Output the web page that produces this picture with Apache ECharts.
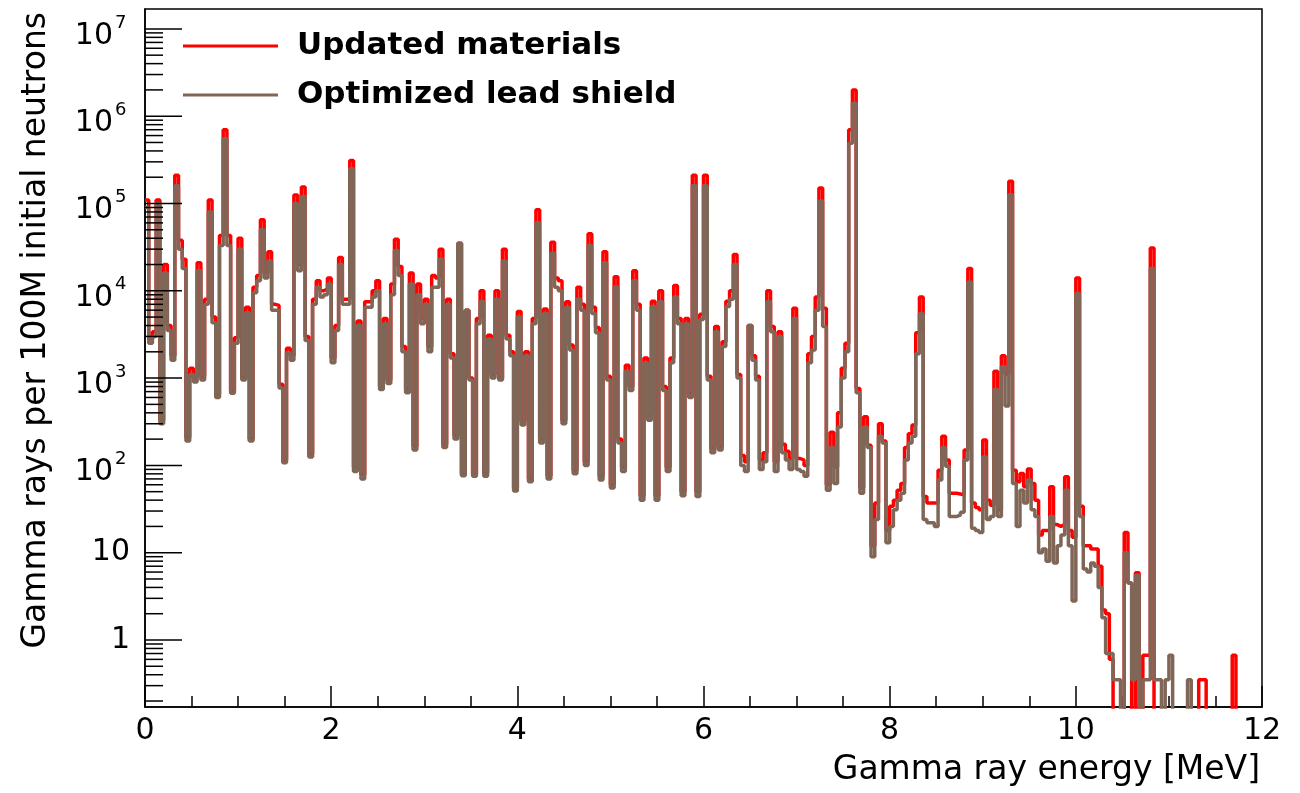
<!DOCTYPE html>
<html><head><meta charset="utf-8">
<script src="https://cdn.jsdelivr.net/npm/echarts@6/dist/echarts.min.js"></script>
<style>html,body{margin:0;padding:0;background:#fff;} #chart{width:1300px;height:793px;}</style>
</head><body><div id="chart"></div>
<script>
// Histogram: 300 bins of 0.04 MeV from 0 to 12 MeV
const binWidth = 0.04;

// "Optimized lead shield" (brown)
const brownCounts = [
  9e4, 2.5e3, 3e3, 1e5, 300, 1.6e4, 3.5e3, 1.6e3, 1.6e5, 3e4,
  1.8e4, 190, 1.1e3, 900, 1.7e4, 950, 7e3, 8e4, 4.3e3, 600,
  3.3e4, 5.5e5, 3.3e4, 670, 2.5e3, 3e4, 950, 5.6e3, 190, 9.5e3,
  1.3e4, 5e4, 1.4e4, 2.2e4, 6e3, 6e3, 770, 107, 1.95e3, 1.6e3,
  1e5, 1.7e4, 1.2e5, 2.7e3, 125, 7e3, 1.1e4, 8.5e3, 9e3, 1.2e4,
  1.5e3, 3.5e3, 2e4, 7e3, 7e3, 2.5e5, 85, 4e3, 70, 6.5e3,
  6.5e3, 8.5e3, 1e4, 740, 4.2e3, 870, 9e3, 2.9e4, 1.5e4, 2e3,
  680, 1.2e4, 150, 9e3, 4.2e3, 7e3, 2e3, 1.1e4, 1.1e4, 2.3e4,
  160, 7e3, 1.7e3, 200, 3.5e4, 76, 6e3, 950, 75, 4.2e3,
  7.5e3, 75, 2.8e3, 1e3, 8e3, 950, 2.2e4, 2.8e3, 1.8e3, 51,
  5e3, 290, 1.8e3, 65, 4.2e3, 6e4, 180, 5.5e3, 70, 2.7e4,
  1.1e4, 1e4, 300, 6.5e3, 2.1e3, 80, 8e3, 6e3, 100, 3.3e4,
  5.5e3, 3.3e3, 68, 2.1e4, 950, 55, 1.1e4, 180, 85, 1.2e3,
  720, 1.3e4, 6e3, 40, 1.5e3, 330, 6.6e3, 40, 7.5e3, 720,
  85, 1.5e3, 8.5e3, 4.2e3, 45, 4.2e3, 600, 1.6e5, 44, 4.7e3,
  1.6e5, 950, 140, 3.4e3, 150, 2.3e3, 6.6e3, 8e3, 2e4, 1e3,
  100, 85, 4e3, 1.6e3, 950, 90, 110, 7.5e3, 3.4e3, 85,
  3e3, 140, 115, 90, 4.8e3, 90, 85, 75, 1.5e3, 2.1e3,
  6e3, 1.07e5, 3.9e3, 52, 160, 62, 275, 1e3, 2e3, 4.9e5,
  1.4e6, 680, 48, 275, 160, 9, 24, 215, 180, 13,
  20, 31, 40, 48, 115, 180, 215, 1.9e3, 5.5e3, 24,
  22, 22, 20, 68, 160, 98, 26, 26, 27, 29,
  115, 1.26e4, 19, 18, 17, 125, 24, 26, 740, 26,
  1.35e3, 480, 1.26e5, 62, 20, 52, 37, 68, 31, 26,
  10, 11, 8, 26, 7.6, 12, 16, 52, 12, 2.8,
  9.3e3, 26, 6.5, 6, 7.6, 7, 4, 1.8, 0.7, 0.7,
  0.35, 0.35, 0.01, 10, 4.5, 0.35, 5.5, 0.01, 0.35, 0.35,
  1.8e4, 0.35, 0.35, 0.01, 0.35, 0.67, 0.01, 0.01, 0.01, 0.01,
  0.35, 0.01, 0.01, 0.01, 0.01, 0.01, 0.01, 0.01, 0.01, 0.01,
  0.01, 0.01, 0.01, 0.01, 0.01, 0.01, 0.01, 0.01, 0.01, 0.01
];

// "Updated materials" (red)
const redCounts = [
  1.1e5, 2.8e3, 3.4e3, 1.1e5, 330, 2e4, 4e3, 1.8e3, 2.1e5, 3.8e4,
  2.3e4, 210, 1.3e3, 1e3, 2.1e4, 1.05e3, 8e3, 1.1e5, 5e3, 650,
  4.3e4, 7e5, 4.3e4, 720, 2.9e3, 4e4, 1e3, 6.5e3, 200, 1.1e4,
  1.5e4, 6.5e4, 1.6e4, 2.8e4, 7e3, 6.8e3, 850, 115, 2.2e3, 1.8e3,
  1.25e5, 2e4, 1.55e5, 3e3, 135, 8e3, 1.3e4, 1e4, 1.05e4, 1.4e4,
  1.7e3, 4e3, 2.4e4, 8e3, 8e3, 3.1e5, 95, 4.5e3, 78, 7.5e3,
  7.5e3, 1e4, 1.3e4, 800, 4.8e3, 950, 1.2e4, 3.9e4, 1.9e4, 2.3e3,
  750, 1.6e4, 165, 1.2e4, 4.8e3, 8e3, 2.3e3, 1.5e4, 1.4e4, 3e4,
  175, 8e3, 1.9e3, 220, 3.5e4, 80, 6e3, 1e3, 80, 4.8e3,
  1e4, 82, 3.1e3, 1.1e3, 1e4, 1e3, 3e4, 3.1e3, 2e3, 55,
  5.8e3, 320, 2e3, 70, 4.8e3, 8.5e4, 200, 6.2e3, 76, 3.6e4,
  1.4e4, 1.3e4, 330, 7.5e3, 2.4e3, 88, 1.1e4, 7e3, 110, 4.5e4,
  6.5e3, 3.8e3, 75, 2.8e4, 1.05e3, 60, 1.45e4, 200, 95, 1.4e3,
  800, 1.7e4, 7e3, 45, 1.7e3, 370, 7.6e3, 45, 1e4, 800,
  95, 1.7e3, 1.15e4, 4.8e3, 50, 4.8e3, 660, 2.1e5, 50, 5.4e3,
  2.1e5, 1.05e3, 155, 3.9e3, 165, 2.6e3, 7.6e3, 1e4, 2.6e4, 1.1e3,
  130, 110, 4e3, 1.8e3, 1.05e3, 115, 140, 1e4, 3.9e3, 110,
  3.4e3, 175, 145, 120, 6.3e3, 120, 115, 100, 1.9e3, 3e3,
  8.5e3, 1.5e5, 6.3e3, 60, 240, 96, 400, 1.3e3, 2.5e3, 7e5,
  2e6, 760, 55, 360, 170, 12, 37, 300, 190, 18,
  34, 40, 52, 62, 160, 230, 290, 3.3e3, 8.5e3, 44,
  37, 37, 37, 88, 215, 115, 48, 48, 47, 46,
  150, 1.8e4, 37, 33, 31, 195, 40, 35, 1.2e3, 31,
  1.8e3, 1.1e3, 1.8e5, 88, 65, 81, 57, 91, 62, 40,
  16, 18, 18, 57, 21, 20, 21, 74, 18, 15,
  1.4e4, 34, 12, 12, 11, 11, 7, 2.2, 2, 0.6,
  0.01, 0.01, 0.01, 17, 4.5, 0.01, 5.9, 0.01, 0.67, 0.67,
  3.1e4, 0.01, 0.01, 0.01, 0.01, 0.01, 0.01, 0.01, 0.01, 0.01,
  0.01, 0.01, 0.01, 0.35, 0.35, 0.01, 0.01, 0.01, 0.01, 0.01,
  0.01, 0.01, 0.67, 0.01, 0.01, 0.01, 0.01, 0.01, 0.01, 0.01
];

const seriesNames = ['Updated materials', 'Optimized lead shield'];
const seriesColors = ['#ff0000', '#7f6657'];

const xMin = 0, xMax = 12, xInterval = 2;
const yMin = 0.1708, yMax = 1.69e7;
const yMajorTicks = [1, 10, 100, 1000, 1e4, 1e5, 1e6, 1e7];
const yMajorBase = ['1', '10', '10', '10', '10', '10', '10', '10'];
const yMajorSup = ['', '', '2', '3', '4', '5', '6', '7'];
const yDecades = [0.1, 1, 10, 100, 1000, 1e4, 1e5, 1e6, 1e7];
const yMinorMult = [2, 3, 4, 5, 6, 7, 8, 9];

const xTitle = 'Gamma ray energy [MeV]';
const yTitle = 'Gamma rays per 100M initial neutrons';

const FONT = 'DejaVu Sans';

function toSteps(vals) {
  const d = vals.map((v, i) => [+(i * binWidth).toFixed(4), v]);
  d.push([+(vals.length * binWidth).toFixed(4), vals[vals.length - 1]]);
  return d;
}

// y tick items: [x, value, isMajor, labelIndex]
const yTickItems = [];
yMajorTicks.forEach((v, i) => yTickItems.push([0, v, 1, i]));
yDecades.forEach(d => yMinorMult.forEach(m => {
  const v = d * m;
  if (v > yMin && v < yMax) yTickItems.push([0, v, 0, -1]);
}));

const chart = echarts.init(document.getElementById('chart'), null, {renderer: 'canvas'});

const option = {
  animation: false,
  backgroundColor: '#ffffff',
  grid: {left: 145, right: 38, top: 9, bottom: 86, show: true, borderColor: '#000', borderWidth: 1.5, backgroundColor: 'transparent'},
  legend: {
    data: seriesNames,
    orient: 'vertical',
    left: 178, top: 23,
    itemWidth: 95, itemHeight: 3, itemGap: 13,
    icon: 'rect',
    textStyle: {fontFamily: FONT, fontWeight: 'bold', fontSize: 31, color: '#000', lineHeight: 36, padding: [0, 0, 0, 14]}
  },
  xAxis: {
    type: 'value', min: xMin, max: xMax, interval: xInterval,
    axisLine: {show: true, lineStyle: {color: '#000', width: 1.5}},
    axisTick: {show: true, inside: true, length: 21, lineStyle: {color: '#000', width: 1.5}},
    minorTick: {show: true, splitNumber: 4, length: 11, lineStyle: {color: '#000', width: 1.5}},
    splitLine: {show: false},
    axisLabel: {fontFamily: FONT, fontSize: 30, color: '#000', margin: 9, showMinLabel: true, showMaxLabel: true}
  },
  yAxis: {
    type: 'log', logBase: 10, min: yMin, max: yMax,
    axisLine: {show: true, lineStyle: {color: '#000', width: 1.5}},
    axisTick: {show: false},
    axisLabel: {show: false},
    splitLine: {show: false}
  },
  graphic: [
    {type: 'text', right: 40, top: 754, style: {text: xTitle, font: '33px "' + FONT + '"', fill: '#000'}},
    {type: 'text', x: 36, y: 12, rotation: Math.PI / 2,
     style: {text: yTitle, font: '33px "' + FONT + '"', fill: '#000', align: 'right', verticalAlign: 'middle'}}
  ],
  series: [
    {
      name: seriesNames[0], type: 'line', step: 'end', showSymbol: false, symbol: 'none',
      data: toSteps(redCounts), clip: true,
      lineStyle: {color: seriesColors[0], width: 3.5},
      itemStyle: {color: seriesColors[0]}, z: 2
    },
    {
      name: seriesNames[1], type: 'line', step: 'end', showSymbol: false, symbol: 'none',
      data: toSteps(brownCounts), clip: true,
      lineStyle: {color: seriesColors[1], width: 3.5},
      itemStyle: {color: seriesColors[1]}, z: 3
    },
    {
      name: 'yticks', type: 'custom', data: yTickItems, clip: false, silent: true, z: 5,
      renderItem: function (params, api) {
        const v = api.value(1);
        const major = api.value(2) === 1;
        const idx = api.value(3);
        const p = api.coord([0, v]);
        const len = major ? 37 : 18;
        const children = [{
          type: 'line',
          shape: {x1: p[0], y1: p[1], x2: p[0] + len, y2: p[1]},
          style: {stroke: '#000', lineWidth: 1.5}
        }];
        if (major) {
          const sup = yMajorSup[idx];
          if (sup) {
            children.push({type: 'text', x: p[0] - 32, y: p[1] + 7,
              style: {text: yMajorBase[idx], font: '30px "' + FONT + '"', fill: '#000', align: 'right', verticalAlign: 'middle'}});
            children.push({type: 'text', x: p[0] - 30, y: p[1] - 6,
              style: {text: sup, font: '18px "' + FONT + '"', fill: '#000', align: 'left', verticalAlign: 'middle'}});
          } else {
            children.push({type: 'text', x: p[0] - 15, y: p[1],
              style: {text: yMajorBase[idx], font: '30px "' + FONT + '"', fill: '#000', align: 'right', verticalAlign: 'middle'}});
          }
        }
        return {type: 'group', children: children};
      }
    }
  ]
};
chart.setOption(option);
</script>
</body></html>
